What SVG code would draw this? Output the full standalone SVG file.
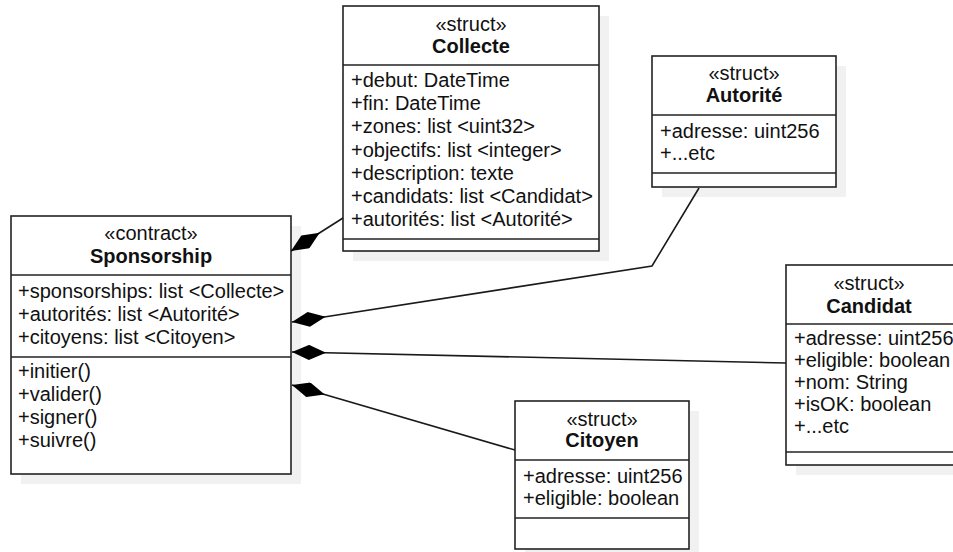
<svg xmlns="http://www.w3.org/2000/svg" width="953" height="552" viewBox="0 0 953 552">
  <style>
    .shadow { fill: #f1f1f1; stroke: none; }
    .box { fill: #ffffff; stroke: #222222; stroke-width: 1.6; }
    .sep { stroke: #222222; stroke-width: 1.6; }
    text { font-family: "Liberation Sans", Arial, sans-serif; font-size: 20px; fill: #111111; }
    .st { text-anchor: middle; }
    .title { text-anchor: middle; font-weight: bold; }
    .edge { fill: none; stroke: #1a1a1a; stroke-width: 1.6; marker-start: url(#composition); }
  </style>
  <defs>
    <!-- filled diamond for composition ends -->
    <marker id="composition" viewBox="0 0 34 15" refX="0" refY="7.5" markerUnits="userSpaceOnUse" markerWidth="34" markerHeight="15" orient="auto">
      <path d="M0,7.5 L17,0 L34,7.5 L17,15 Z" fill="#000000"/>
    </marker>
  </defs>

  <!-- Sponsorship -->
  <g id="sponsorship">
    <rect class="shadow" x="21" y="226" width="280" height="258"/>
    <rect class="box" x="11" y="216" width="280" height="258"/>
    <line class="sep" x1="11" y1="275" x2="291" y2="275"/>
    <line class="sep" x1="11" y1="357" x2="291" y2="357"/>
    <text class="st" x="151" y="240">«contract»</text>
    <text class="title" x="151" y="263">Sponsorship</text>
    <text x="18" y="298">+sponsorships: list &lt;Collecte&gt;</text>
    <text x="18" y="321">+autorités: list &lt;Autorité&gt;</text>
    <text x="18" y="344">+citoyens: list &lt;Citoyen&gt;</text>
    <text x="18" y="378">+initier()</text>
    <text x="18" y="401">+valider()</text>
    <text x="18" y="424">+signer()</text>
    <text x="18" y="447">+suivre()</text>
  </g>

  <!-- Collecte -->
  <g id="collecte">
    <rect class="shadow" x="353" y="16" width="256" height="245"/>
    <rect class="box" x="343" y="6" width="256" height="245"/>
    <line class="sep" x1="343" y1="65" x2="599" y2="65"/>
    <line class="sep" x1="343" y1="239" x2="599" y2="239"/>
    <text class="st" x="471" y="31">«struct»</text>
    <text class="title" x="471" y="53">Collecte</text>
    <text x="351" y="87">+debut: DateTime</text>
    <text x="351" y="110">+fin: DateTime</text>
    <text x="351" y="133">+zones: list &lt;uint32&gt;</text>
    <text x="351" y="157">+objectifs: list &lt;integer&gt;</text>
    <text x="351" y="180">+description: texte</text>
    <text x="351" y="203">+candidats: list &lt;Candidat&gt;</text>
    <text x="351" y="226">+autorités: list &lt;Autorité&gt;</text>
  </g>

  <!-- Autorité -->
  <g id="autorite">
    <rect class="shadow" x="662" y="66" width="184" height="131"/>
    <rect class="box" x="652" y="56" width="184" height="131"/>
    <line class="sep" x1="652" y1="115" x2="836" y2="115"/>
    <line class="sep" x1="652" y1="173" x2="836" y2="173"/>
    <text class="st" x="744" y="80">«struct»</text>
    <text class="title" x="744" y="102">Autorité</text>
    <text x="660" y="138">+adresse: uint256</text>
    <text x="660" y="160">+...etc</text>
  </g>

  <!-- Candidat -->
  <g id="candidat">
    <rect class="shadow" x="796" y="275" width="180" height="200"/>
    <rect class="box" x="786" y="265" width="180" height="200"/>
    <line class="sep" x1="786" y1="324" x2="966" y2="324"/>
    <line class="sep" x1="786" y1="452" x2="966" y2="452"/>
    <text class="st" x="869" y="290">«struct»</text>
    <text class="title" x="869" y="313">Candidat</text>
    <text x="794" y="345">+adresse: uint256</text>
    <text x="794" y="367">+eligible: boolean</text>
    <text x="794" y="389">+nom: String</text>
    <text x="794" y="411">+isOK: boolean</text>
    <text x="794" y="433">+...etc</text>
  </g>

  <!-- Citoyen -->
  <g id="citoyen">
    <rect class="shadow" x="525" y="411" width="174" height="148"/>
    <rect class="box" x="515" y="401" width="174" height="148"/>
    <line class="sep" x1="515" y1="460" x2="689" y2="460"/>
    <line class="sep" x1="515" y1="518" x2="689" y2="518"/>
    <text class="st" x="602" y="426">«struct»</text>
    <text class="title" x="602" y="447">Citoyen</text>
    <text x="523" y="483">+adresse: uint256</text>
    <text x="523" y="505">+eligible: boolean</text>
  </g>

  <!-- compositions owned by Sponsorship -->
  <g id="connectors">
    <path class="edge" d="M291,251 L343,218"/>
    <path class="edge" d="M292,322 L652,266 L699,188"/>
    <path class="edge" d="M292,352 L786,363"/>
    <path class="edge" d="M292,385 L515,450"/>
  </g>
</svg>
